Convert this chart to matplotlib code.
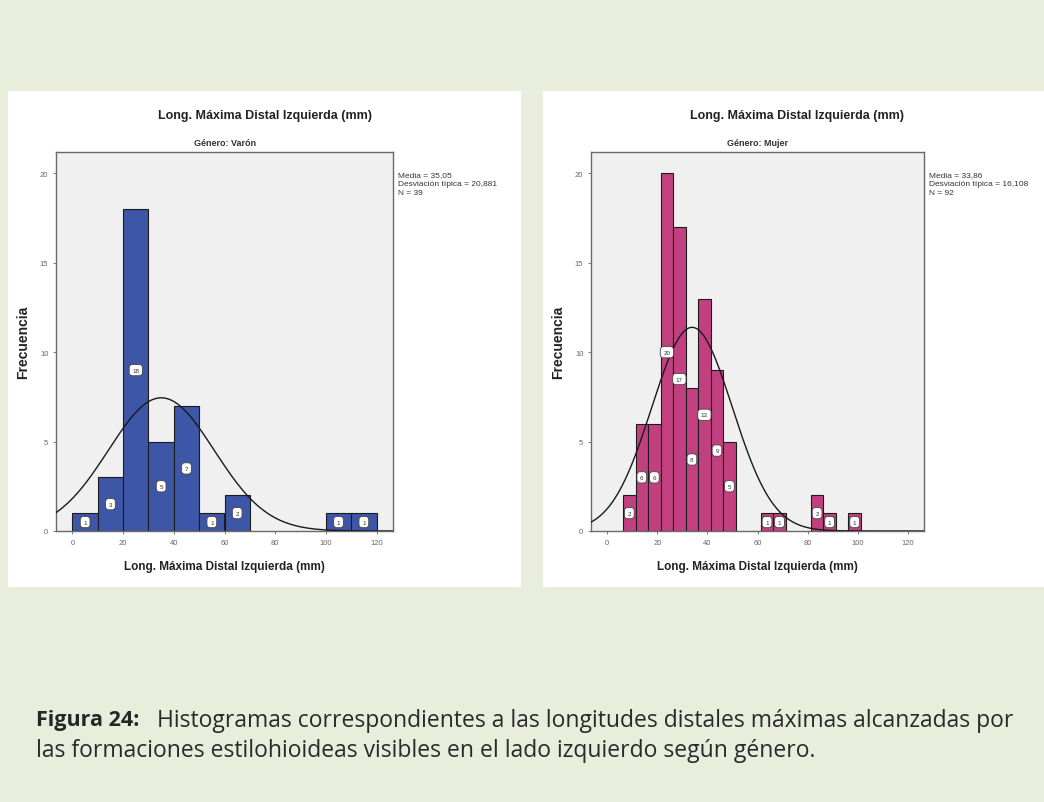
import matplotlib.pyplot as plt
from matplotlib.patches import Rectangle
import numpy as np

plt.rcParams['font.family'] = ['Liberation Sans Narrow', 'Liberation Sans', 'DejaVu Sans']

# histogram data
varon_edges = [0, 10, 20, 30, 40, 50, 60, 70, 80, 90, 100, 110, 120]
varon_counts = [1, 3, 18, 5, 7, 1, 2, 0, 0, 0, 1, 1]
varon_mean, varon_sd, varon_n = 35.05, 20.881, 39

mujer_edges = [6.3, 11.3, 16.3, 21.3, 26.3, 31.3, 36.3, 41.3, 46.3, 51.3, 56.3,
               61.3, 66.3, 71.3, 76.3, 81.3, 86.3, 91.3, 96.3, 101.3]
mujer_counts = [2, 6, 6, 20, 17, 8, 13, 9, 5, 0, 0, 1, 1, 0, 0, 2, 1, 0, 1]
mujer_mean, mujer_sd, mujer_n = 33.86, 16.108, 92

title = 'Long. Máxima Distal Izquierda (mm)'
W, H = 1044, 803
BG = '#e9eddc'


def fig_rect(x0, y0, x1, y1):
    # pixel box (top-left origin) -> figure fraction
    return [x0 / W, 1 - y1 / H, (x1 - x0) / W, (y1 - y0) / H]


def draw_hist(ax, edges, counts, mean, sd, n, color, subtitle, stats):
    edges = np.array(edges)
    counts = np.array(counts)
    widths = np.diff(edges)
    mask = counts > 0
    ax.bar(edges[:-1][mask], counts[mask], width=widths[mask], align='edge',
           color=color, edgecolor='#1c1c1c', linewidth=0.8, zorder=2)
    for x, w, c in zip(edges[:-1][mask], widths[mask], counts[mask]):
        ax.text(x + w / 2, c / 2, str(c), fontsize=4.5, ha='center', va='center',
                color='#333333', zorder=4,
                bbox=dict(boxstyle='round,pad=0.5', fc='white', ec='#444444', lw=0.6))
    xs = np.linspace(-6.5, 126.5, 400)
    bw = widths[0]
    ys = n * bw / (sd * np.sqrt(2 * np.pi)) * np.exp(-0.5 * ((xs - mean) / sd) ** 2)
    ax.plot(xs, ys, color='#1a1a1a', linewidth=1.0, zorder=3)

    ax.set_xlim(-6.5, 126.5)
    ax.set_ylim(0, 21.2)
    ax.set_facecolor('#f0f0f0')
    ax.set_xticks(range(0, 121, 20))
    ax.set_yticks(range(0, 21, 5))
    ax.tick_params(labelsize=5.5, colors='#666666', length=2.5, width=0.6, pad=3)
    for s in ax.spines.values():
        s.set_color('#6a6a6a')
        s.set_linewidth(1.0)
    ax.set_xlabel(title, fontsize=8.5, fontweight='bold', color='#222222', labelpad=10)
    ax.set_ylabel('Frecuencia', fontsize=10, fontweight='bold', color='#222222', labelpad=7)
    ax.set_title(subtitle, fontsize=6.5, fontweight='bold', color='#333333', pad=5)
    ax.text(1.015, 0.95, stats, transform=ax.transAxes, fontsize=6, va='top',
            ha='left', color='#333333', linespacing=1.45)


fig = plt.figure(figsize=(W / 100, H / 100), dpi=100, facecolor=BG)

# white panels
for x0, x1 in [(8, 521), (543, 1044)]:
    fig.patches.append(Rectangle((x0 / W, 1 - 588 / H), (x1 - x0) / W, (588 - 92) / H,
                                 transform=fig.transFigure, facecolor='white',
                                 edgecolor='none', zorder=-5))

ax1 = fig.add_axes(fig_rect(56, 153, 393, 532))
ax1.set_zorder(2)
draw_hist(ax1, varon_edges, varon_counts, varon_mean, varon_sd, varon_n,
          '#3e56a8', 'Género: Varón',
          'Media = 35,05\nDesviación típica = 20,881\nN = 39')
fig.text(265 / W, 1 - 116 / H, title, fontsize=9, fontweight='bold',
         ha='center', va='center', color='#222222')

ax2 = fig.add_axes(fig_rect(591, 153, 924, 532))
ax2.set_zorder(2)
draw_hist(ax2, mujer_edges, mujer_counts, mujer_mean, mujer_sd, mujer_n,
          '#c2407f', 'Género: Mujer',
          'Media = 33,86\nDesviación típica = 16,108\nN = 92')
fig.text(797 / W, 1 - 116 / H, title, fontsize=9, fontweight='bold',
         ha='center', va='center', color='#222222')

# caption
cap_font = ['Open Sans', 'DejaVu Sans']
fig.text(36 / W, 1 - 721 / H, 'Figura 24:', fontsize=15.5, fontweight='bold',
         family=cap_font, color='#262626', va='center')
fig.text(157 / W, 1 - 721 / H,
         'Histogramas correspondientes a las longitudes distales máximas alcanzadas por',
         fontsize=16.5, family=cap_font, color='#2a2a2a', va='center')
fig.text(36 / W, 1 - 751 / H,
         'las formaciones estilohioideas visibles en el lado izquierdo según género.',
         fontsize=16.5, family=cap_font, color='#2a2a2a', va='center')

fig.savefig('out.png', dpi=100, facecolor=BG)
